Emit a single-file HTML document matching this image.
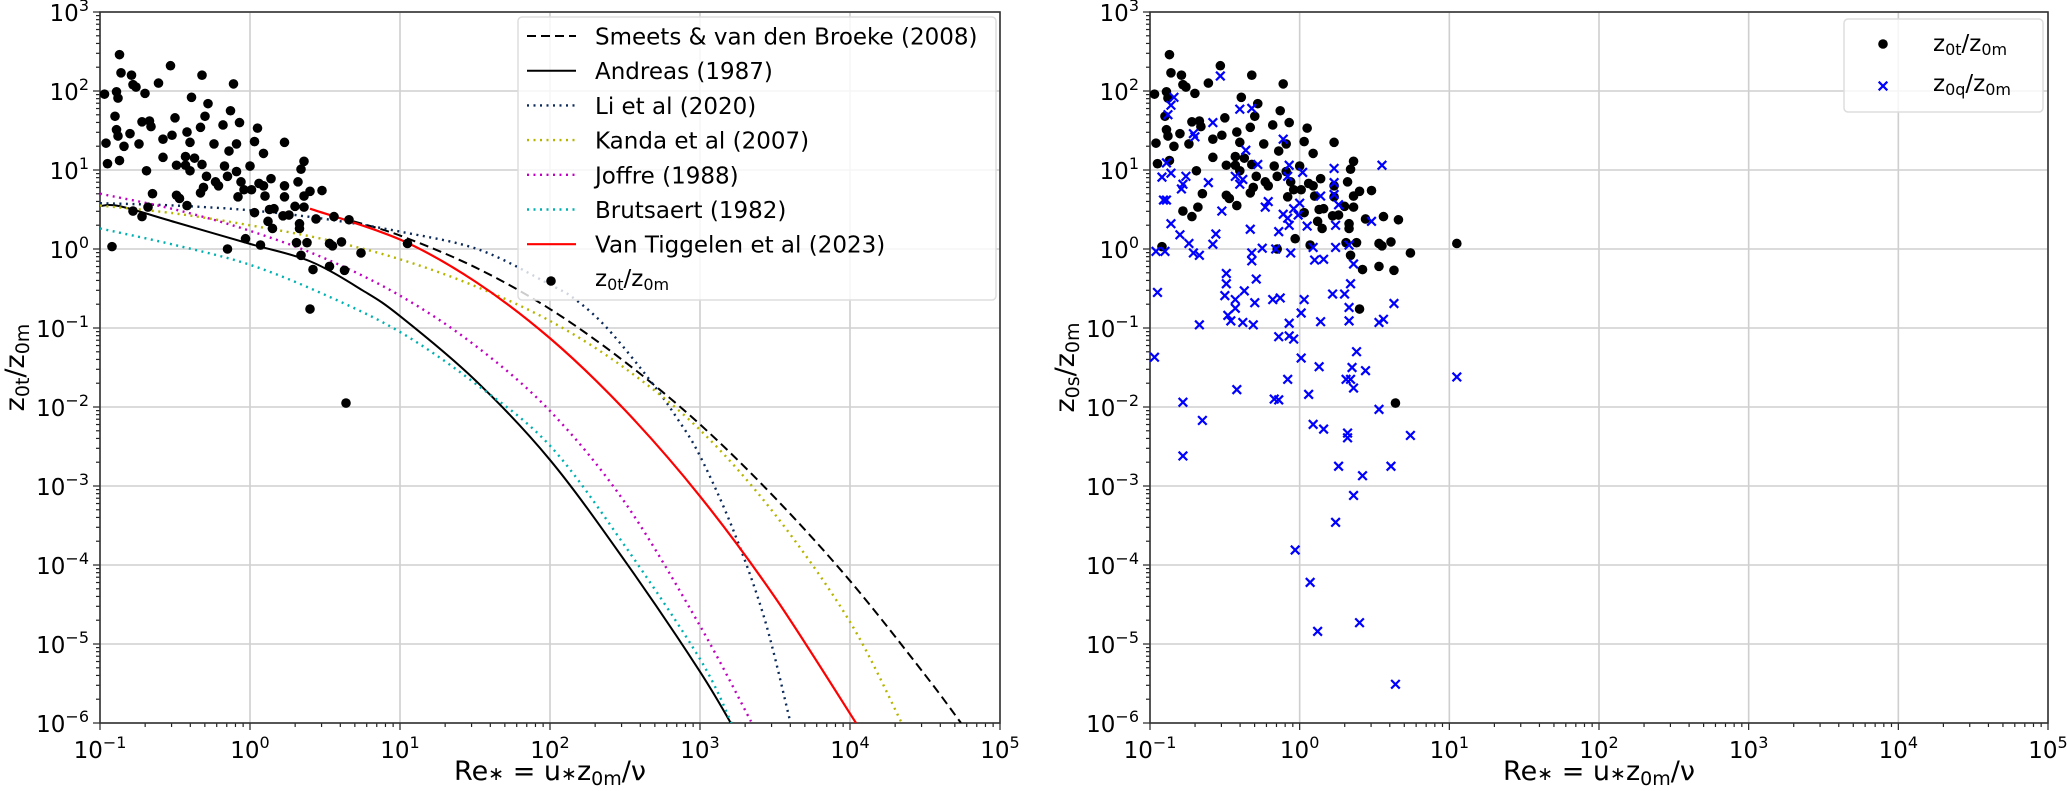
<!DOCTYPE html>
<html><head><meta charset="utf-8"><style>
html,body{margin:0;padding:0;background:#fff;}
svg{display:block;font-family:"DejaVu Sans","Liberation Sans",sans-serif;}
</style></head><body>
<svg id="fig" width="2067" height="791" viewBox="0 0 2067 791" xmlns="http://www.w3.org/2000/svg">
<defs>
<clipPath id="clipL"><rect x="100" y="12" width="900" height="711"/></clipPath>
<clipPath id="clipR"><rect x="1150" y="12" width="898" height="711"/></clipPath>
</defs>
<g id="left"></g>
<g id="right"></g>
</svg>
<script>
// ---- data (log10 values) ----
const blackLogRe=[-0.87,-0.86,-0.79,-0.78,-0.76,-0.70,-0.61,-0.53,-0.32,-0.11,-0.97,-0.89,-0.88,-0.39,-0.28,-0.30,-0.90,-0.72,-0.67,-0.66,-0.50,-0.33,-0.13,-0.07,-0.18,0.05,-0.89,-0.88,-0.80,-0.96,-0.84,-0.74,-0.58,-0.52,-0.42,-0.40,-0.24,-0.14,-0.09,0.03,0.09,0.23,-0.58,-0.43,-0.37,-0.49,-0.43,-0.40,-0.32,-0.17,0.00,-0.95,-0.87,-0.69,-0.29,-0.23,-0.21,-0.15,-0.09,-0.06,0.14,0.06,0.09,0.23,0.32,0.34,0.36,-0.33,-0.31,-0.65,-0.49,-0.47,-0.42,-0.08,-0.04,0.01,0.10,0.23,0.36,0.40,0.48,-0.68,-0.78,-0.72,0.03,0.13,0.16,0.12,0.15,0.22,0.26,0.30,0.36,0.33,0.33,0.44,0.56,0.66,-0.03,0.07,0.31,0.38,0.53,0.55,0.61,-0.15,-0.92,0.34,0.74,0.42,0.53,0.63,1.05,0.40,0.64];
const blackLogRatio=[2.46,2.23,2.20,2.08,2.05,1.97,2.10,2.32,2.20,2.09,1.96,1.99,1.91,1.92,1.84,1.68,1.68,1.61,1.62,1.55,1.66,1.54,1.75,1.60,1.57,1.53,1.51,1.43,1.46,1.34,1.30,1.33,1.39,1.44,1.48,1.35,1.33,1.24,1.33,1.36,1.21,1.35,1.16,1.17,1.15,1.06,1.06,0.99,1.07,1.05,1.05,1.08,1.12,0.99,0.92,0.85,0.80,0.92,0.98,0.85,0.89,0.83,0.80,0.80,0.85,1.01,1.11,0.71,0.78,0.70,0.68,0.64,0.55,0.66,0.75,0.75,0.67,0.66,0.67,0.73,0.74,0.53,0.48,0.41,0.46,0.50,0.51,0.35,0.26,0.42,0.43,0.54,0.53,0.32,0.26,0.38,0.41,0.37,0.13,0.05,0.08,0.08,0.07,0.04,0.09,0.00,0.03,-0.08,-0.05,-0.26,-0.22,-0.27,0.07,-0.76,-1.95];
const blueLogRe=[-0.53,-0.84,-0.86,-0.88,-0.40,-0.32,-0.58,-0.71,-0.70,-0.11,-0.36,-0.89,-0.28,-0.07,0.23,0.55,0.02,-0.92,-0.86,-0.76,-0.43,-0.38,-0.08,-0.61,-0.40,-0.78,-0.79,0.23,0.14,0.23,-0.91,-0.89,-0.21,-0.23,-0.52,0.00,-0.04,0.26,-0.11,-0.08,-0.01,-0.07,0.05,0.24,0.48,-0.86,-0.80,-0.56,-0.58,-0.74,-0.33,-0.14,-0.71,-0.67,-0.96,-0.90,-0.25,-0.16,-0.06,-0.32,-0.32,0.09,0.10,0.16,0.24,0.33,0.36,-0.49,-0.49,-0.29,0.34,-0.95,-0.50,-0.43,-0.37,-0.30,-0.18,-0.13,0.03,0.22,0.30,0.63,-0.43,-0.48,-0.46,-0.38,-0.31,0.01,0.33,-0.67,-0.07,0.14,0.33,0.53,0.56,-0.14,-0.07,-0.04,-0.97,-0.78,-0.65,-0.78,-0.42,-0.17,-0.14,-0.08,0.01,0.13,0.06,0.38,0.35,0.44,0.31,0.34,0.36,1.05,0.53,0.09,0.16,0.32,0.32,0.74,0.26,0.42,0.61,0.36,0.24,-0.03,0.07,0.40,0.12,0.64];
const blueLogRatio=[2.19,1.92,1.82,1.70,1.77,1.78,1.60,1.46,1.42,1.39,1.25,1.09,1.07,1.06,1.02,1.06,0.97,0.91,0.96,0.92,0.92,0.88,0.92,0.84,0.82,0.82,0.76,0.84,0.67,0.69,0.62,0.62,0.60,0.53,0.48,0.58,0.51,0.56,0.44,0.39,0.43,0.30,0.29,0.30,0.35,0.32,0.18,0.19,0.06,0.07,0.25,0.22,-0.05,-0.08,-0.03,-0.03,0.01,0.00,-0.05,-0.05,-0.15,0.02,-0.14,-0.13,0.02,0.05,-0.19,-0.31,-0.44,-0.38,-0.44,-0.55,-0.59,-0.64,-0.53,-0.68,-0.64,-0.62,-0.64,-0.57,-0.57,-0.69,-0.75,-0.84,-0.91,-0.93,-0.96,-0.81,-0.74,-0.96,-0.94,-0.92,-0.91,-0.93,-0.89,-1.11,-1.10,-1.14,-1.37,-1.94,-2.17,-2.62,-1.78,-1.90,-1.91,-1.65,-1.38,-1.49,-1.84,-1.30,-1.50,-1.54,-1.65,-1.65,-1.76,-1.62,-2.03,-2.22,-2.28,-2.33,-2.39,-2.36,-2.75,-2.87,-2.75,-3.12,-3.46,-3.81,-4.22,-4.73,-4.84,-5.51];

const smeetsLogRe=[0.69,1.0,1.5,2.0,2.5,3.0,3.5,4.0,4.5,4.74];
const smeetsLogRatio=[0.35,0.17,-0.23,-0.76,-1.43,-2.22,-3.15,-4.2,-5.39,-6.0];
const andreasLogRe=[-1,-0.87,-0.5,0,0.4,0.75,1,1.5,2,2.5,3,3.25];
const andreasLogRatio=[0.543,0.543,0.34,0.065,-0.155,-0.523,-0.849,-1.658,-2.67,-3.95,-5.35,-6.149];
const liLogRe=[-1,-0.5,0,0.5,1,1.53,2,2.17,2.38,2.67,2.85,3.0,3.22,3.43,3.6];
const liLogRatio=[0.58,0.55,0.49,0.38,0.22,-0.01,-0.45,-0.64,-1.0,-1.67,-2.15,-2.62,-3.55,-4.68,-5.97];
const kandaLogRe=[-1,-0.5,0,0.5,1,1.5,2,2.5,3,3.5,4,4.35];
const kandaLogRatio=[0.55,0.45,0.30,0.12,-0.13,-0.47,-0.91,-1.51,-2.29,-3.36,-4.72,-6.02];
const joffreLogRe=[-1,-0.5,0,0.5,1,1.5,2,2.5,3,3.34];
const joffreLogRatio=[0.70,0.50,0.23,-0.12,-0.59,-1.22,-2.05,-3.21,-4.77,-5.98];
const brutsLogRe=[-1,-0.5,0,0.5,1,1.5,2,2.5,3,3.21];
const brutsLogRatio=[0.26,0.05,-0.2,-0.58,-1.05,-1.70,-2.49,-3.76,-5.19,-6.0];
const vtLogRe=[0.4,1.0,1.5,2.0,2.5,3.0,3.5,4.04];
const vtLogRatio=[0.51,0.12,-0.41,-1.13,-2.04,-3.13,-4.41,-6.0];

const xTickExp=[-1,0,1,2,3,4,5];
const yTickExp=[3,2,1,0,-1,-2,-3,-4,-5,-6];

const NS='http://www.w3.org/2000/svg';
function mk(tag,attrs,parent){const e=document.createElementNS(NS,tag);for(const k in attrs)e.setAttribute(k,attrs[k]);parent.appendChild(e);return e;}

function makeAxes(g,x0,x1,y0,y1,ylabelSub){
  const X=lx=>x0+(lx+1)/6*(x1-x0);
  const Y=ly=>y0+(3-ly)/9*(y1-y0);
  const grid=mk('g',{},g);
  
  
  xTickExp.forEach(e=>{mk('line',{x1:X(e),x2:X(e),y1:y0,y2:y1,stroke:'#cfcfcf','stroke-width':1.6},grid);});
  yTickExp.forEach(e=>{mk('line',{x1:x0,x2:x1,y1:Y(e),y2:Y(e),stroke:'#cfcfcf','stroke-width':1.6},grid);});
  const ticks=mk('g',{stroke:'#222','stroke-width':1.2},g);
  
  
  for(let d=-1;d<5;d++){for(let m=1;m<10;m++){const lx=d+Math.log10(m);const L=m===1?7:4;
    mk('line',{x1:X(lx),x2:X(lx),y1:y1,y2:y1+L},ticks);}}
  mk('line',{x1:X(5),x2:X(5),y1:y1,y2:y1+7},ticks);
  for(let d=-6;d<3;d++){for(let m=1;m<10;m++){const ly=d+Math.log10(m);const L=m===1?7:4;
    mk('line',{x1:x0,x2:x0-L,y1:Y(ly),y2:Y(ly)},ticks);}}
  mk('line',{x1:x0,x2:x0-7,y1:Y(3),y2:Y(3)},ticks);
  xTickExp.forEach(e=>{const t=mk('text',{x:X(e),y:y1+35,'text-anchor':'middle','font-size':23,fill:'#000'},g);
    
    
    t.appendChild(document.createTextNode('10'));
    const s=mk('tspan',{dy:-10,'font-size':16},t);s.textContent=String(e).replace('-','−');});
  yTickExp.forEach(e=>{const t=mk('text',{x:x0-11,y:Y(e)+9,'text-anchor':'end','font-size':23,fill:'#000'},g);
    
    
    t.appendChild(document.createTextNode('10'));
    const s=mk('tspan',{dy:-10,'font-size':16},t);s.textContent=String(e).replace('-','−');});
  const fr=mk('rect',{x:x0,y:y0,width:x1-x0,height:y1-y0,fill:'none',stroke:'#333','stroke-width':1.6},g);
  
  
  const xl=mk('text',{x:(x0+x1)/2,y:780,'text-anchor':'middle','font-size':27,fill:'#000'},g);
  
  
  xl.innerHTML='Re<tspan font-size="19">∗</tspan> = u<tspan font-size="19">∗</tspan>z<tspan font-size="19" dy="5">0m</tspan><tspan dy="-5">/ν</tspan>';
  const yl=mk('text',{x:0,y:0,'text-anchor':'middle','font-size':27,fill:'#000',transform:`translate(${x0-76},${(y0+y1)/2}) rotate(-90)`},g);
  
  
  yl.innerHTML=`z<tspan font-size="19" dy="5">${ylabelSub}</tspan><tspan dy="-5">/z</tspan><tspan font-size="19" dy="5">0m</tspan>`;
  return {X,Y};
}

function smoothPath(xs,ys){
  const p=xs.map((v,i)=>[v,ys[i]]);
  let d=`M${p[0][0]},${p[0][1]}`;
  for(let i=0;i<p.length-1;i++){
    const p0=p[Math.max(0,i-1)],p1=p[i],p2=p[i+1],p3=p[Math.min(p.length-1,i+2)];
    const c1=[p1[0]+(p2[0]-p0[0])/6,p1[1]+(p2[1]-p0[1])/6];
    const c2=[p2[0]-(p3[0]-p1[0])/6,p2[1]-(p3[1]-p1[1])/6];
    d+=` C${c1[0]},${c1[1]} ${c2[0]},${c2[1]} ${p2[0]},${p2[1]}`;
  }
  return d;
}

function drawDots(g,A,xs,ys,clip,name){
  const grp=mk('g',{'clip-path':`url(#${clip})`},g);
  
  
  xs.forEach((v,i)=>{const c=mk('circle',{cx:A.X(v),cy:A.Y(ys[i]),r:4.8,fill:'#000'},grp);
    
    });
}
function drawCross(parent,cx,cy,s){
  return mk('path',{d:`M${cx-s},${cy-s}L${cx+s},${cy+s}M${cx-s},${cy+s}L${cx+s},${cy-s}`,stroke:'#0000ff','stroke-width':2.2,fill:'none'},parent);
}

// ---- left chart ----
const gL=document.getElementById('left');
const A=makeAxes(gL,100,1000,12,723,'0t');
const curves=[
 {n:'smeets-curve',xs:smeetsLogRe,ys:smeetsLogRatio,c:'#000',dash:'9,5',w:2},
 {n:'andreas-curve',xs:andreasLogRe,ys:andreasLogRatio,c:'#000',dash:'',w:2},
 {n:'li-curve',xs:liLogRe,ys:liLogRatio,c:'#0b2a5a',dash:'2,4.5',w:2.4},
 {n:'kanda-curve',xs:kandaLogRe,ys:kandaLogRatio,c:'#b5b500',dash:'2,4.5',w:2.4},
 {n:'joffre-curve',xs:joffreLogRe,ys:joffreLogRatio,c:'#c000c0',dash:'2,4.5',w:2.4},
 {n:'brutsaert-curve',xs:brutsLogRe,ys:brutsLogRatio,c:'#00b0b0',dash:'2,4.5',w:2.4},
 {n:'van-tiggelen-curve',xs:vtLogRe,ys:vtLogRatio,c:'#ff0000',dash:'',w:2.2}
];
const cg=mk('g',{'clip-path':'url(#clipL)'},gL);


curves.forEach(cv=>{
  const p=mk('path',{d:smoothPath(cv.xs.map(A.X),cv.ys.map(A.Y)),fill:'none',stroke:cv.c,'stroke-width':cv.w},cg);
  if(cv.dash)p.setAttribute('stroke-dasharray',cv.dash);
  
  
});
drawDots(gL,A,blackLogRe,blackLogRatio,'clipL','z0t-scatter');

const lg=mk('g',{},gL);


mk('rect',{x:518,y:17,width:478,height:283,rx:4,fill:'#fff','fill-opacity':0.8,stroke:'#ddd','stroke-width':1.5},lg);
const labels=['Smeets &amp; van den Broeke (2008)','Andreas (1987)','Li et al (2020)','Kanda et al (2007)','Joffre (1988)','Brutsaert (1982)','Van Tiggelen et al (2023)'];
labels.forEach((lab,i)=>{
  const y=36+i*34.7, cv=curves[i];
  const e=mk('g',{},lg);
  
  
  const l=mk('line',{x1:527,x2:576,y1:y,y2:y,stroke:cv.c,'stroke-width':cv.w},e);
  if(cv.dash)l.setAttribute('stroke-dasharray',cv.dash);
  const t=mk('text',{x:595,y:y+8.5,'font-size':23,fill:'#000'},e);
  t.innerHTML=lab;
});
const le=mk('g',{},lg);


mk('circle',{cx:551,cy:281,r:4.8,fill:'#000'},le);
const lt=mk('text',{x:595,y:286,'font-size':23,fill:'#000'},le);
lt.innerHTML='z<tspan font-size="16" dy="4">0t</tspan><tspan dy="-4">/z</tspan><tspan font-size="16" dy="4">0m</tspan>';

// ---- right chart ----
const gR=document.getElementById('right');
const B=makeAxes(gR,1150,2048,12,723,'0s');
drawDots(gR,B,blackLogRe,blackLogRatio,'clipR','z0t-scatter');
const bg=mk('g',{'clip-path':'url(#clipR)'},gR);


blueLogRe.forEach((v,i)=>{const c=drawCross(bg,B.X(v),B.Y(blueLogRatio[i]),4.3);
  
  });
const rg=mk('g',{},gR);


mk('rect',{x:1844,y:19,width:199,height:93,rx:4,fill:'#fff','fill-opacity':0.8,stroke:'#ddd','stroke-width':1.5},rg);
const r1=mk('g',{},rg);


mk('circle',{cx:1883,cy:44,r:4.8,fill:'#000'},r1);
const rt1=mk('text',{x:1933,y:51,'font-size':23,fill:'#000'},r1);
rt1.innerHTML='z<tspan font-size="16" dy="4">0t</tspan><tspan dy="-4">/z</tspan><tspan font-size="16" dy="4">0m</tspan>';
const r2=mk('g',{},rg);


drawCross(r2,1883,86,4.3);
const rt2=mk('text',{x:1933,y:91,'font-size':23,fill:'#000'},r2);
rt2.innerHTML='z<tspan font-size="16" dy="4">0q</tspan><tspan dy="-4">/z</tspan><tspan font-size="16" dy="4">0m</tspan>';
</script>
</body></html>
